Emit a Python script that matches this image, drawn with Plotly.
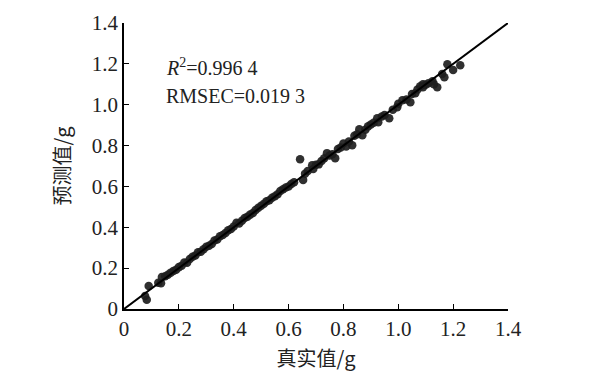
import plotly.graph_objects as go

true_vals = [0.077, 0.083, 0.090, 0.125, 0.135, 0.138, 0.15, 0.16, 0.17, 0.18, 0.19, 0.20, 0.21, 0.22, 0.23,
             0.24, 0.25, 0.26, 0.27, 0.28, 0.29, 0.30, 0.31, 0.32, 0.33, 0.34, 0.35, 0.36, 0.37, 0.38,
             0.39, 0.40, 0.41, 0.42, 0.43, 0.44, 0.45, 0.46, 0.47, 0.48, 0.49, 0.50, 0.51, 0.52, 0.53,
             0.54, 0.55, 0.56, 0.57, 0.58, 0.59, 0.60, 0.61, 0.62, 0.642, 0.653, 0.66, 0.67, 0.686, 0.69,
             0.70, 0.71, 0.72, 0.73, 0.74, 0.75, 0.76, 0.77, 0.78, 0.79, 0.80, 0.81, 0.82, 0.832, 0.84,
             0.85, 0.858, 0.869, 0.88, 0.89, 0.90, 0.91, 0.923, 0.927, 0.94, 0.95, 0.967, 0.98, 0.996, 1.00,
             1.015, 1.03, 1.044, 1.05, 1.062, 1.07, 1.08, 1.09, 1.10, 1.11, 1.125, 1.142, 1.16, 1.168, 1.179,
             1.20, 1.226, 1.13, 1.09]
pred_vals = [0.064, 0.045, 0.113, 0.128, 0.126, 0.157, 0.160, 0.168, 0.178, 0.186, 0.192, 0.205, 0.212, 0.228, 0.226,
             0.245, 0.256, 0.262, 0.278, 0.280, 0.293, 0.305, 0.310, 0.318, 0.335, 0.340, 0.356, 0.362, 0.372, 0.385,
             0.392, 0.404, 0.422, 0.418, 0.432, 0.446, 0.452, 0.462, 0.470, 0.485, 0.496, 0.505, 0.515, 0.528, 0.532,
             0.545, 0.552, 0.562, 0.578, 0.586, 0.595, 0.600, 0.612, 0.620, 0.733, 0.631, 0.662, 0.676, 0.704, 0.685,
             0.706, 0.708, 0.724, 0.738, 0.763, 0.752, 0.758, 0.738, 0.783, 0.790, 0.810, 0.795, 0.820, 0.802, 0.848,
             0.855, 0.880, 0.851, 0.878, 0.894, 0.903, 0.912, 0.934, 0.914, 0.942, 0.950, 0.934, 0.975, 0.988, 1.005,
             1.022, 1.025, 1.012, 1.052, 1.056, 1.075, 1.090, 1.085, 1.098, 1.105, 1.115, 1.086, 1.150, 1.134, 1.198,
             1.170, 1.193, 1.100, 1.100]
line_x = [0, 1.4]
line_y = [0, 1.4]
tick_vals = [0, 0.2, 0.4, 0.6, 0.8, 1.0, 1.2, 1.4]
tick_text = ["0", "0.2", "0.4", "0.6", "0.8", "1.0", "1.2", "1.4"]

serif = "Liberation Serif, Times New Roman, serif"
cjk = "Noto Sans CJK SC"

# page has an 8px body margin; figure is sized to fit the 601x383 window
OFF = 8
W, H = 601 - OFF, 383 - OFF
L, R, T, B = 124 - OFF, 93, 23 - OFF, 74

fig = go.Figure()
fig.add_trace(go.Scatter(x=true_vals, y=pred_vals, mode="markers",
                         marker=dict(size=8.5, color="rgba(30,30,30,0.92)", line=dict(width=0)),
                         showlegend=False, cliponaxis=False))
fig.add_trace(go.Scatter(x=line_x, y=line_y, mode="lines",
                         line=dict(color="black", width=2), showlegend=False, cliponaxis=False))

axis_common = dict(range=[0, 1.4], tickvals=tick_vals, ticktext=tick_text, ticks="inside", ticklen=5,
                   tickwidth=1.2, tickcolor="black", showline=True, linecolor="black", linewidth=1.5,
                   showgrid=False, zeroline=False, automargin=False,
                   tickfont=dict(family=serif, size=21, color="#222"))

fig.update_layout(
    width=W, height=H,
    margin=dict(l=L, r=R, t=T, b=B),
    paper_bgcolor="white", plot_bgcolor="white",
    xaxis=dict(**axis_common, title=dict(text="真实值/g", font=dict(family=cjk, size=20, color="#222"), standoff=12)),
    yaxis=dict(**axis_common, title=dict(text="预测值/g", font=dict(family=cjk, size=20, color="#222"), standoff=16)),
)

pw = W - L - R
ph = H - T - B
for px, py, txt in [(164, 67, "<i>R</i><sup>2</sup>=0.996 4"), (164, 96, "RMSEC=0.019 3")]:
    fig.add_annotation(x=(px - 124) / pw, y=(309 - py) / ph, xref="paper", yref="paper", text=txt,
                       showarrow=False, xanchor="left", yanchor="middle",
                       font=dict(family=serif, size=20, color="#222"))

fig.write_html("out.html")
